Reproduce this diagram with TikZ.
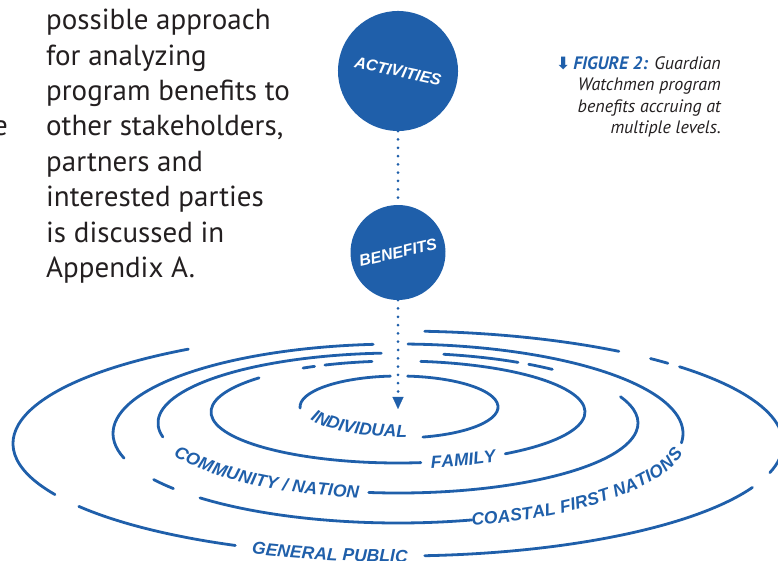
\documentclass[tikz,border=0pt]{standalone}
\usepackage{fontspec}
\setmainfont{PT Sans}
\newfontfamily\tagfont{Liberation Sans}
\newfontfamily\glyphfont{DejaVu Sans}
\usetikzlibrary{arrows.meta,decorations.text}
\definecolor{ringblue}{HTML}{1F5FAA}
\definecolor{ink}{HTML}{231F20}
\newcommand{\ringfont}{\tagfont\bfseries\itshape\fontsize{17.5}{17.5}\selectfont}

\begin{document}
\begin{tikzpicture}[x=1pt,y=1pt,
  ring/.style={draw=ringblue,line width=2.8pt,line cap=round},
  dots/.style={draw=ringblue,line width=3pt,line cap=round,dash pattern=on 0pt off 8.3pt},
  disc/.style={circle,fill=ringblue,text=white,inner sep=0pt,font=\tagfont\bfseries\itshape\fontsize{16}{16}\selectfont},
  ringtext/.style={decorate,decoration={text along path,text align=center,raise=#1,text color=ringblue}},
  body/.style={text=ink,inner sep=0pt,font=\fontsize{29}{35.4}\selectfont},
  caption/.style={text=ink,inner sep=0pt,align=right,font=\itshape\fontsize{18}{21.5}\selectfont}]
\useasboundingbox (0,0) rectangle (778,561);

\node[body,anchor=north west,align=left] (note) at (46,552) {possible approach\\for analyzing\\program benefits to\\other stakeholders,\\partners and\\interested parties\\is discussed in\\Appendix A.};
\node[body,anchor=base east] (cut) at (8,425.7) {e};
\node[caption,anchor=north east] (cap) at (721,505) {{\color{ringblue}\glyphfont\bfseries\fontsize{17}{17}\selectfont ⬇}\,{\color{ringblue}\bfseries FIGURE 2:} Guardian\\Watchmen program\\benefits accruing at\\multiple levels.};

\node[disc,minimum size=120pt,rotate=-12] (act) at (398,490) {ACTIVITIES};
\node[disc,minimum size=95pt,rotate=13] (ben) at (398,308.5) {BENEFITS};
\coordinate (core) at (398,152);
\draw[dots] (act) -- (ben);
\draw[dots,-{Triangle[length=12pt,width=11pt,line width=0.1pt]}] (ben) -- (core);

\coordinate (c1) at (399,154);
\coordinate (c2) at (398,149);
\coordinate (c3) at (398,138);
\coordinate (c4) at (398,127.5);
\coordinate (c5) at (398,117.5);

\draw[ring] (c1) ++(284:99 and 31) arc[start angle=284,end angle=445,x radius=99,y radius=31];
\draw[ring] (c1) ++(95:99 and 31) arc[start angle=95,end angle=182,x radius=99,y radius=31];
\path[ringtext=1pt,decoration={text={|\ringfont|INDIVIDUAL}}] (c1) ++(182:99 and 31) arc[start angle=182,end angle=284,x radius=99,y radius=31];

\draw[ring] (c2) ++(138:187 and 51) arc[start angle=138,end angle=277,x radius=187,y radius=51];
\draw[ring] (c2) ++(305:187 and 51) arc[start angle=305,end angle=443,x radius=187,y radius=51];
\draw[ring] (c2) ++(98:187 and 51) arc[start angle=98,end angle=113,x radius=187,y radius=51];
\draw[ring] (c2) ++(116.5:187 and 51) arc[start angle=116.5,end angle=120.5,x radius=187,y radius=51];
\path[ringtext=-6pt,decoration={text={|\ringfont|FAMILY}}] (c2) ++(277:187 and 51) arc[start angle=277,end angle=305,x radius=187,y radius=51];

\draw[ring] (c3) ++(94:240 and 70) arc[start angle=94,end angle=191.5,x radius=240,y radius=70];
\draw[ring] (c3) ++(263:240 and 70) arc[start angle=263,end angle=382,x radius=240,y radius=70];
\draw[ring] (c3) ++(50:240 and 70) arc[start angle=50,end angle=57,x radius=240,y radius=70];
\draw[ring] (c3) ++(60:240 and 70) arc[start angle=60,end angle=79,x radius=240,y radius=70];
\path[ringtext=-6pt,decoration={text={|\ringfont|COMMUNITY / NATION}}] (c3) ++(189:240 and 70) arc[start angle=189,end angle=266,x radius=240,y radius=70];

\draw[ring] (c4) ++(95:285 and 89.5) arc[start angle=95,end angle=196,x radius=285,y radius=89.5];
\draw[ring] (c4) ++(211:285 and 89.5) arc[start angle=211,end angle=218,x radius=285,y radius=89.5];
\draw[ring] (c4) ++(226:285 and 89.5) arc[start angle=226,end angle=285,x radius=285,y radius=89.5];
\draw[ring] (c4) ++(354:285 and 89.5) arc[start angle=354,end angle=448,x radius=285,y radius=89.5];
\path[ringtext=-6pt,decoration={text={|\ringfont|COASTAL FIRST NATIONS}}] (c4) ++(282:285 and 89.5) arc[start angle=282,end angle=358,x radius=285,y radius=89.5];

\draw[ring] (c5) ++(123:385 and 112.5) arc[start angle=123,end angle=207,x radius=385,y radius=112.5];
\draw[ring] (c5) ++(214:385 and 112.5) arc[start angle=214,end angle=245,x radius=385,y radius=112.5];
\draw[ring] (c5) ++(274:385 and 112.5) arc[start angle=274,end angle=337,x radius=385,y radius=112.5];
\draw[ring] (c5) ++(345:385 and 112.5) arc[start angle=345,end angle=403,x radius=385,y radius=112.5];
\draw[ring] (c5) ++(45.5:385 and 112.5) arc[start angle=45.5,end angle=49,x radius=385,y radius=112.5];
\draw[ring] (c5) ++(55:385 and 112.5) arc[start angle=55,end angle=86,x radius=385,y radius=112.5];
\path[ringtext=-6pt,decoration={text={|\ringfont|GENERAL PUBLIC}}] (c5) ++(245:385 and 112.5) arc[start angle=245,end angle=274,x radius=385,y radius=112.5];
\end{tikzpicture}
\end{document}
